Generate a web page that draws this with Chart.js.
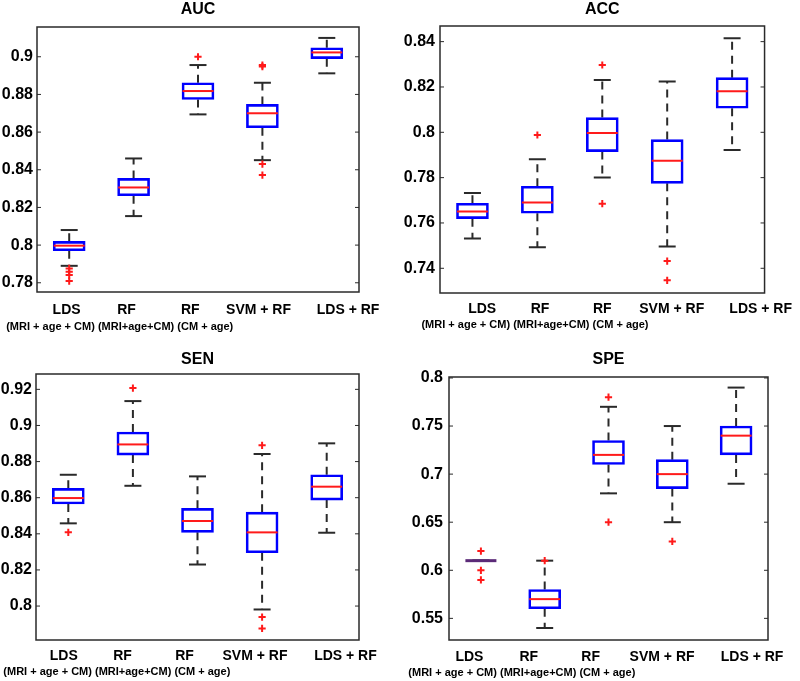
<!DOCTYPE html>
<html>
<head>
<meta charset="utf-8">
<script src="https://cdn.jsdelivr.net/npm/chart.js@4/dist/chart.umd.min.js"></script>
<style>
  body { margin: 0; background: #fff; }
  #wrap { position: relative; width: 800px; height: 681px; }
  canvas { position: absolute; display: block; }
</style>
</head>
<body>
<div id="wrap">
  <canvas id="auc" width="400" height="340" style="left:0;top:0"></canvas>
  <canvas id="acc" width="400" height="340" style="left:400px;top:0"></canvas>
  <canvas id="sen" width="400" height="341" style="left:0;top:340px"></canvas>
  <canvas id="spe" width="400" height="341" style="left:400px;top:340px"></canvas>
</div>
<script>
// ========================
// DATA
// ========================
const names = ['LDS', 'RF', 'RF', 'SVM + RF', 'LDS + RF'];
const subNames = ['(MRI + age + CM)', '(MRI+age+CM)', '(CM + age)'];

// AUC
const aucLow  = [0.789, 0.8154, 0.8694, 0.8451, 0.8912];
const aucQ1   = [0.797, 0.8262, 0.8773, 0.8623, 0.899];
const aucMed  = [0.7997, 0.8306, 0.8818, 0.870, 0.9023];
const aucQ3   = [0.802, 0.8354, 0.8862, 0.8747, 0.9048];
const aucHigh = [0.808, 0.846, 0.8956, 0.8862, 0.910];
const aucOut  = [[0, 0.7876], [0, 0.7858], [0, 0.7841], [0, 0.7809], [2, 0.9], [3, 0.8956], [3, 0.8948], [3, 0.843], [3, 0.8372]];
const aucTicks = [0.78, 0.8, 0.82, 0.84, 0.86, 0.88, 0.9];

// ACC
const accLow  = [0.7531, 0.7493, 0.7801, 0.7496, 0.7922];
const accQ1   = [0.7619, 0.7643, 0.7915, 0.7775, 0.8106];
const accMed  = [0.7651, 0.769, 0.7997, 0.7874, 0.8181];
const accQ3   = [0.7687, 0.7762, 0.8065, 0.7968, 0.8241];
const accHigh = [0.7732, 0.7881, 0.8231, 0.8224, 0.8415];
const accOut  = [[1, 0.7988], [2, 0.8297], [2, 0.7685], [3, 0.7432], [3, 0.7347]];
const accTicks = [0.74, 0.76, 0.78, 0.8, 0.82, 0.84];

// SEN
const senLow  = [0.8458, 0.8666, 0.823, 0.7981, 0.8406];
const senQ1   = [0.8565, 0.8836, 0.8408, 0.8295, 0.8587];
const senMed  = [0.8598, 0.8895, 0.8471, 0.8408, 0.8661];
const senQ3   = [0.8652, 0.8964, 0.8541, 0.852, 0.8727];
const senHigh = [0.8727, 0.9135, 0.8718, 0.8842, 0.8901];
const senOut  = [[0, 0.8408], [1, 0.9207], [3, 0.889], [3, 0.7939], [3, 0.7876]];
const senTicks = [0.8, 0.82, 0.84, 0.86, 0.88, 0.9, 0.92];

// SPE
const speLow  = [0.61, 0.54, 0.68, 0.65, 0.69];
const speQ1   = [0.61, 0.56, 0.71, 0.685, 0.72];
const speMed  = [0.61, 0.57, 0.72, 0.70, 0.74];
const speQ3   = [0.61, 0.58, 0.735, 0.715, 0.75];
const speHigh = [0.61, 0.61, 0.77, 0.75, 0.79];
const speOut  = [[0, 0.62], [0, 0.60], [0, 0.59], [1, 0.61], [2, 0.78], [2, 0.65], [3, 0.63]];
const speTicks = [0.55, 0.6, 0.65, 0.7, 0.75, 0.8];

// ========================
// CONFIG
// ========================
Chart.defaults.font.family = '"Liberation Sans", Arial, sans-serif';
Chart.defaults.color = '#000';

const BLUE = '#0000ff';
const RED = '#ff1a1a';
const PURPLE = '#5b2a78'; // blue box + red median squashed together
const INK = '#2a2a2a';

// chart area (L,T,R,B) inside each canvas, matched to the reference;
// labelAt = where the group names sit on the x axis (they are not centred under the boxes in the original)
const panels = [
  { id: 'auc', title: 'AUC', low: aucLow, q1: aucQ1, med: aucMed, q3: aucQ3, high: aucHigh, out: aucOut, ticks: aucTicks,
    min: 0.7751, max: 0.9158, L: 37, T: 27, R: 359, B: 292, H: 340, titleTop: 0.4, yPad: 4, pad1: 9.6, pad2: 3, subOffset: -63,
    labelAt: [-0.04, 0.89, 1.88, 2.94, 4.33] },
  { id: 'acc', title: 'ACC', low: accLow, q1: accQ1, med: accMed, q3: accQ3, high: accHigh, out: accOut, ticks: accTicks,
    min: 0.7291, max: 0.8469, L: 40, T: 26, R: 368, B: 293, H: 340, titleTop: 0.4, yPad: 5, pad1: 7.6, pad2: 0.5, subOffset: -51,
    labelAt: [0.15, 1.04, 2.0, 3.07, 4.44] },
  { id: 'sen', title: 'SEN', low: senLow, q1: senQ1, med: senMed, q3: senQ3, high: senHigh, out: senOut, ticks: senTicks,
    min: 0.7812, max: 0.9285, L: 36, T: 34, R: 359, B: 300, H: 341, titleTop: 10.4, yPad: 4, pad1: 7.3, pad2: 0.2, subOffset: -65,
    labelAt: [-0.07, 0.84, 1.8, 2.89, 4.29] },
  { id: 'spe', title: 'SPE', low: speLow, q1: speQ1, med: speMed, q3: speQ3, high: speHigh, out: speOut, ticks: speTicks,
    min: 0.5275, max: 0.801, L: 49, T: 37, R: 368, B: 300, H: 341, titleTop: 10.4, yPad: 6, pad1: 9.1, pad2: 1.7, subOffset: -72.6,
    labelAt: [-0.18, 0.75, 1.72, 2.84, 4.25] }
];

// frame round the plot + inward tick marks (matlab style)
const framePlugin = {
  id: 'frame',
  afterDraw(chart) {
    const { ctx, chartArea: a, scales: { y } } = chart;
    ctx.save();
    ctx.strokeStyle = INK;
    ctx.lineWidth = 1.5;
    ctx.strokeRect(a.left, a.top, a.right - a.left, a.bottom - a.top);
    ctx.lineWidth = 1;
    y.ticks.forEach(t => {
      const py = y.getPixelForValue(t.value);
      ctx.beginPath();
      ctx.moveTo(a.left, py); ctx.lineTo(a.left + 4, py);
      ctx.moveTo(a.right, py); ctx.lineTo(a.right - 4, py);
      ctx.stroke();
    });
    ctx.restore();
  }
};

function boxDatasets(p) {
  const idx = names.map((_, i) => i);
  const flat = i => p.q1[i] === p.q3[i];
  return [
    { // medians
      type: 'line', data: idx.map(i => ({ x: i, y: p.med[i] })), showLine: false,
      pointStyle: 'line', pointRadius: 15.5, borderColor: RED,
      pointBorderColor: c => flat(c.dataIndex) ? PURPLE : RED,
      pointBorderWidth: c => flat(c.dataIndex) ? 3 : 2
    },
    { // outliers
      type: 'line', data: p.out.map(([i, v]) => ({ x: i, y: v })), showLine: false,
      pointStyle: 'cross', pointRadius: 3.6, pointBorderWidth: 2, borderColor: RED, pointBorderColor: RED
    },
    { // boxes
      type: 'bar', data: idx.map(i => ({ x: i, y: [p.q1[i], p.q3[i]] })),
      backgroundColor: 'rgba(0,0,0,0)', borderColor: BLUE, borderWidth: 2, borderSkipped: false, barThickness: 32
    },
    { // whisker caps
      type: 'line', data: idx.flatMap(i => [{ x: i, y: p.low[i] }, { x: i, y: p.high[i] }]), showLine: false,
      pointStyle: 'line', pointRadius: 8.5, pointBorderWidth: 2, borderColor: INK, pointBorderColor: INK
    },
    { // dashed whiskers
      type: 'line',
      data: idx.flatMap(i => [
        { x: i, y: p.q3[i] }, { x: i, y: p.high[i] }, { x: i, y: null },
        { x: i, y: p.q1[i] }, { x: i, y: p.low[i] }, { x: i, y: null }
      ]),
      borderColor: INK, borderWidth: 2, borderDash: [8, 6], pointRadius: 0, spanGaps: false
    }
  ];
}

function makePanel(p) {
  const ctx = document.getElementById(p.id).getContext('2d');
  new Chart(ctx, {
    type: 'bar',
    data: { datasets: boxDatasets(p) },
    options: {
      responsive: false,
      animation: false,
      events: [],
      layout: { padding: { left: 0, top: 0, right: 400 - p.R, bottom: 0 } },
      plugins: {
        legend: { display: false },
        tooltip: { enabled: false },
        title: {
          display: true, text: p.title, fullSize: false,
          font: { size: 16, weight: 'bold' }, color: '#000',
          padding: { top: p.titleTop, bottom: p.T - p.titleTop - 19.2 }
        }
      },
      scales: {
        x: {
          type: 'linear', min: -0.5, max: 4.5, offset: false, weight: 0,
          grid: { display: false, drawTicks: false }, border: { display: false },
          afterBuildTicks: s => { s.ticks = p.labelAt.map(v => ({ value: v })); },
          afterFit: s => { s.height = 25; },
          ticks: {
            autoSkip: false, maxRotation: 0, padding: p.pad1,
            font: { size: 14, weight: 'bold' },
            callback: (v, i) => names[i]
          }
        },
        x2: {
          type: 'linear', position: 'bottom', min: -0.5, max: 4.5, offset: false, weight: 1,
          grid: { display: false, drawTicks: false }, border: { display: false },
          afterBuildTicks: s => { s.ticks = [{ value: 0 }]; },
          afterFit: s => { s.height = p.H - p.B - 25; },
          ticks: {
            autoSkip: false, maxRotation: 0, padding: p.pad2, align: 'start', labelOffset: p.subOffset,
            font: { size: 11, weight: 'bold' },
            callback: () => subNames.join(' ')
          }
        },
        y: {
          type: 'linear', min: p.min, max: p.max,
          grid: { display: false, drawTicks: false }, border: { display: false },
          afterBuildTicks: s => { s.ticks = p.ticks.map(v => ({ value: v })); },
          afterFit: s => { s.width = p.L; },
          ticks: {
            padding: p.yPad,
            font: { size: 16, weight: 'bold' },
            callback: v => String(v)
          }
        }
      }
    },
    plugins: [framePlugin]
  });
}

// ========================
// INIT
// ========================
panels.forEach(makePanel);
</script>
</body>
</html>
